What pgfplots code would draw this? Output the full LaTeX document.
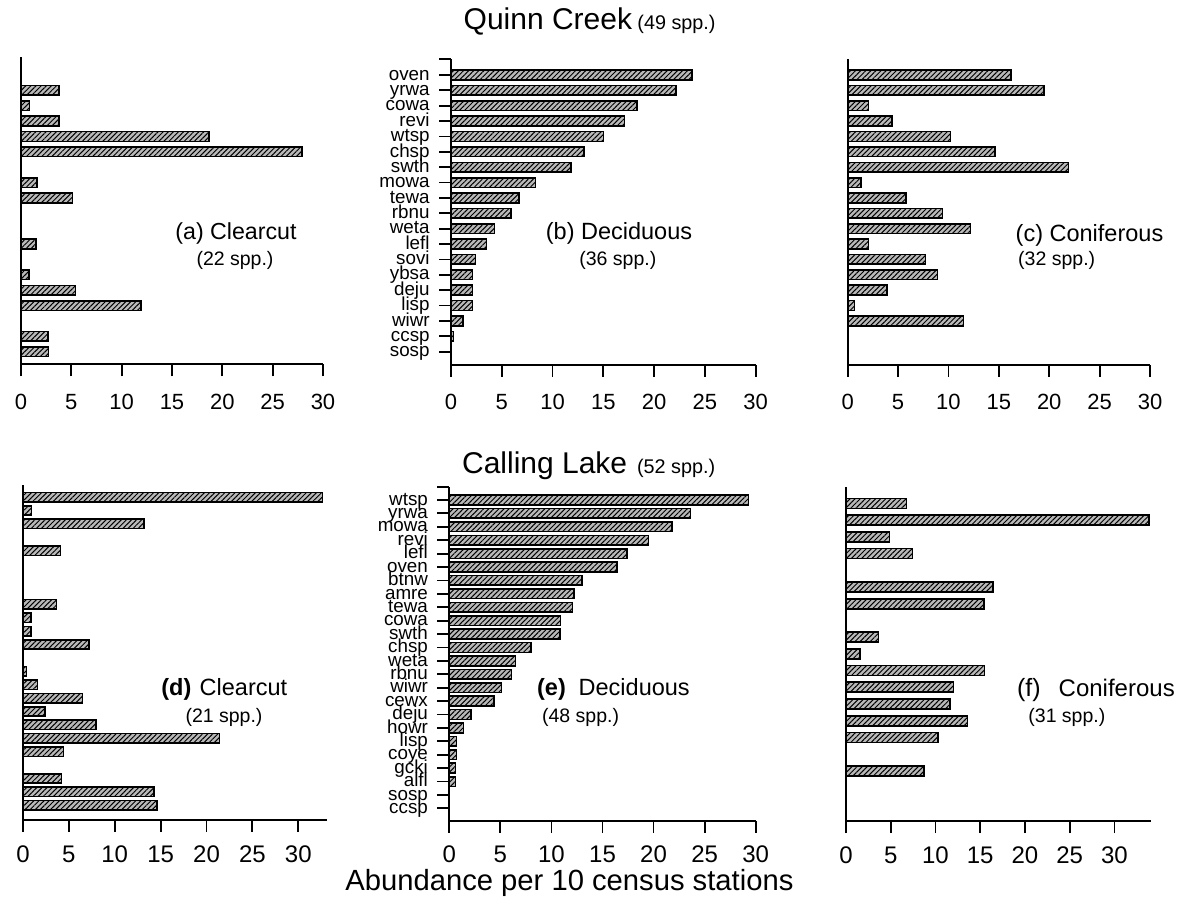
\documentclass[border=0pt]{standalone}
\usepackage{fontspec}
\setmainfont{Liberation Sans}
\usepackage{pgfplots}
\pgfplotsset{compat=1.18}
\usetikzlibrary{patterns.meta}

\pgfplotsset{
  panel/.style={
    scale only axis,
    axis x line*=bottom, axis y line*=left,
    enlargelimits=false,
    xmin=0, xtick={0,5,...,30},
    tick align=outside,
    major tick length=6pt,
    axis line style={line width=0.9pt},
    every tick/.style={black, line width=0.9pt},
    ytick=\empty,
    /pgf/number format/assume math mode=true,
    xticklabel style={font=\fontsize{11}{11}\selectfont, inner sep=0pt, anchor=north, text height=0.72em, text depth=0pt, yshift=-9pt},
    yticklabel style={font=\fontsize{9.4}{9.4}\selectfont, inner sep=0pt, anchor=east, text height=0.52em, text depth=0pt, xshift=-4.5pt},
    xbar, bar shift=0pt,
    clip=false,
  },
  botrow/.style={xticklabel style={font=\fontsize{12}{12}\selectfont, yshift=1.3pt}},
  hbar/.style={draw=black, line width=0.8pt, fill=gray!55,
    postaction={pattern={Lines[angle=45,distance=1.8pt,line width=0.5pt]}}},
}

\begin{document}
\begin{tikzpicture}
\path[use as bounding box] (0,0) rectangle (591pt,455.5pt);

% ---------------- (a) Quinn Creek, Clearcut
\begin{axis}[panel, at={(10.5pt,273.35pt)}, anchor=south west,
  width=151pt, height=153.8pt, xmax=30, ymin=-18.82, ymax=1.19]
\addplot[hbar, bar width=4.85pt] coordinates {
(3.8,-1) (0.86,-2) (3.77,-3) (18.7,-4) (27.9,-5) (1.6,-7) (5.1,-8)
(1.5,-11) (0.8,-13) (5.4,-14) (11.9,-15) (2.7,-17) (2.75,-18)};
\end{axis}

% ---------------- (b) Quinn Creek, Deciduous
\begin{axis}[panel, at={(225.5pt,273pt)}, anchor=south west,
  width=152.35pt, height=152.85pt, xmax=30, ymin=-18.87, ymax=1.02,
  ytick={-18,-17,-16,-15,-14,-13,-12,-11,-10,-9,-8,-7,-6,-5,-4,-3,-2,-1,0},
  yticklabels={sosp,ccsp,wiwr,lisp,deju,ybsa,sovi,lefl,weta,rbnu,tewa,mowa,swth,chsp,wtsp,revi,cowa,yrwa,oven},
  extra y ticks={1.02}, extra y tick labels={}]
\addplot[hbar, bar width=4.85pt] coordinates {
(23.7,0) (22.15,-1) (18.3,-2) (17.1,-3) (15.0,-4) (13.1,-5) (11.8,-6)
(8.3,-7) (6.7,-8) (5.9,-9) (4.3,-10) (3.5,-11) (2.4,-12) (2.1,-13)
(2.1,-14) (2.1,-15) (1.2,-16) (0.26,-17)};
\end{axis}

% ---------------- (c) Quinn Creek, Coniferous
\begin{axis}[panel, at={(423.85pt,273pt)}, anchor=south west,
  width=151.15pt, height=152.85pt, xmax=30, ymin=-18.87, ymax=1.02]
\addplot[hbar, bar width=4.85pt] coordinates {
(16.2,0) (19.5,-1) (2.05,-2) (4.4,-3) (10.2,-4) (14.6,-5) (21.9,-6)
(1.3,-7) (5.8,-8) (9.4,-9) (12.2,-10) (2.05,-11) (7.7,-12) (8.9,-13)
(3.9,-14) (0.66,-15) (11.5,-16)};
\end{axis}

% ---------------- (d) Calling Lake, Clearcut
\begin{axis}[panel, botrow, at={(11.5pt,45.5pt)}, anchor=south west,
  width=151.85pt, height=167.5pt, xmax=33.1, ymin=-24.09, ymax=0.895]
\addplot[hbar, bar width=4.7pt] coordinates {
(32.65,0) (0.94,-1) (13.2,-2) (4.07,-4) (3.67,-8) (0.87,-9) (0.87,-10)
(7.2,-11) (0.4,-13) (1.56,-14) (6.5,-15) (2.4,-16) (7.95,-17) (21.4,-18)
(4.4,-19) (4.2,-21) (14.3,-22) (14.6,-23)};
\end{axis}

% ---------------- (e) Calling Lake, Deciduous
\begin{axis}[panel, botrow, at={(224.65pt,45.15pt)}, anchor=south west,
  width=153.2pt, height=167pt, xmax=30, ymin=-23.92, ymax=0.99,
  ytick={-23,-22,-21,-20,-19,-18,-17,-16,-15,-14,-13,-12,-11,-10,-9,-8,-7,-6,-5,-4,-3,-2,-1,0},
  yticklabels={ccsp,sosp,alfl,gcki,coye,lisp,howr,deju,cewx,wiwr,rbnu,weta,chsp,swth,cowa,tewa,amre,btnw,oven,lefl,revi,mowa,yrwa,wtsp},
  extra y ticks={0.99}, extra y tick labels={}]
\addplot[hbar, bar width=4.85pt] coordinates {
(29.3,0) (23.6,-1) (21.8,-2) (19.5,-3) (17.4,-4) (16.4,-5) (13.0,-6)
(12.2,-7) (12.05,-8) (10.9,-9) (10.85,-10) (8.0,-11) (6.5,-12) (6.1,-13)
(5.1,-14) (4.4,-15) (2.1,-16) (1.4,-17) (0.7,-18) (0.7,-19) (0.6,-20)
(0.6,-21)};
\end{axis}

% ---------------- (f) Calling Lake, Coniferous
\begin{axis}[panel, botrow, at={(423pt,45pt)}, anchor=south west,
  width=152.35pt, height=167.15pt, xmax=34.06, ymin=-20, ymax=0]
\addplot[hbar, bar width=5pt] coordinates {
(6.78,-1) (33.9,-2) (4.85,-3) (7.45,-4) (16.4,-6) (15.4,-7) (3.65,-9)
(1.57,-10) (15.5,-11) (12.0,-12) (11.6,-13) (13.6,-14) (10.3,-15) (8.7,-17)};
\end{axis}

% ---------------- texts (pixel coordinates of the reference)
\begin{scope}[x=0.5pt, y=-0.5pt, shift={(0pt,455.5pt)}, every node/.style={inner sep=0pt}]
\node[anchor=base west, font=\fontsize{15}{15}\selectfont] at (463.3,30) {Quinn Creek};
\node[anchor=base west, font=\fontsize{9.9}{9.9}\selectfont] at (637,30) {(49 spp.)};
\node[anchor=base west, font=\fontsize{15}{15}\selectfont] at (461.7,473.3) {Calling Lake};
\node[anchor=base west, font=\fontsize{9.9}{9.9}\selectfont] at (636.7,473.3) {(52 spp.)};

\node[anchor=base, font=\fontsize{11.6}{11.6}\selectfont] at (236,240) {(a) Clearcut};
\node[anchor=base, font=\fontsize{9.75}{9.75}\selectfont] at (235,266) {(22 spp.)};
\node[anchor=base, font=\fontsize{11.75}{11.75}\selectfont] at (619,240) {(b) Deciduous};
\node[anchor=base, font=\fontsize{9.75}{9.75}\selectfont] at (617.8,266) {(36 spp.)};
\node[anchor=base, font=\fontsize{11.75}{11.75}\selectfont] at (1089.5,241.5) {(c) Coniferous};
\node[anchor=base, font=\fontsize{9.75}{9.75}\selectfont] at (1056.7,266) {(32 spp.)};

\node[anchor=base west, font=\fontsize{11.75}{11.75}\selectfont\bfseries] at (161,695) {(d)};
\node[anchor=base west, font=\fontsize{11.75}{11.75}\selectfont] at (199.3,695) {Clearcut};
\node[anchor=base, font=\fontsize{9.75}{9.75}\selectfont] at (224,722.7) {(21 spp.)};
\node[anchor=base west, font=\fontsize{11.75}{11.75}\selectfont\bfseries] at (536.7,695) {(e)};
\node[anchor=base west, font=\fontsize{11.75}{11.75}\selectfont] at (578.3,695) {Deciduous};
\node[anchor=base west, font=\fontsize{9.75}{9.75}\selectfont] at (541.7,722.7) {(48 spp.)};
\node[anchor=base west, font=\fontsize{12.5}{12.5}\selectfont] at (1016.7,696.7) {(f)};
\node[anchor=base west, font=\fontsize{12}{12}\selectfont] at (1058.3,696.7) {Coniferous};
\node[anchor=base west, font=\fontsize{9.75}{9.75}\selectfont] at (1028,722.7) {(31 spp.)};

\node[anchor=base west, font=\fontsize{14.6}{14.6}\selectfont] at (345,890) {Abundance per 10 census stations};
\end{scope}
\end{tikzpicture}
\end{document}
